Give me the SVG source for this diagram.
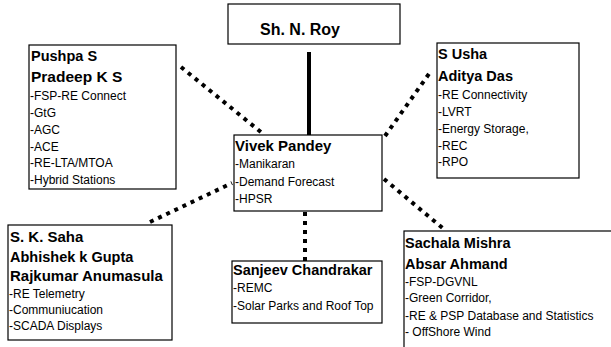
<svg xmlns="http://www.w3.org/2000/svg" width="611" height="347" viewBox="0 0 611 347">
<style>
.box{fill:#fff;stroke:#000;stroke-width:1.2}
.h{font-family:"Liberation Sans",Arial,sans-serif;font-weight:bold;font-size:14.5px;fill:#000}
.t{font-family:"Liberation Sans",Arial,sans-serif;font-size:12px;fill:#000}
.dot{fill:none;stroke:#000;stroke-width:4;stroke-dasharray:4 5}
.solid{fill:none;stroke:#000;stroke-width:4}
</style>
<rect width="611" height="347" fill="#fff"/>
<g id="connectors">
<line class="solid" x1="309" y1="52" x2="309" y2="135"/>
<line class="dot" x1="181" y1="67" x2="262" y2="133"/>
<line class="dot" x1="385" y1="136" x2="431" y2="71"/>
<line class="dot" x1="150" y1="222" x2="232" y2="183"/>
<line class="dot" x1="384" y1="179" x2="445" y2="230"/>
<line class="dot" x1="305" y1="212" x2="305" y2="261"/>
</g>
<g id="roy">
<rect class="box" x="228" y="4" width="172" height="40"/>
<text class="h" x="260" y="35" style="font-size:16px">Sh. N. Roy</text>
</g>
<g id="pushpa">
<rect class="box" x="29" y="45" width="147" height="144"/>
<text class="h" x="31" y="61">Pushpa S</text>
<text class="h" x="31" y="82" style="font-size:15.5px">Pradeep K S</text>
<text class="t" x="30" y="100">-FSP-RE Connect</text>
<text class="t" x="30" y="117">-GtG</text>
<text class="t" x="30" y="134">-AGC</text>
<text class="t" x="30" y="151">-ACE</text>
<text class="t" x="30" y="167">-RE-LTA/MTOA</text>
<text class="t" x="30" y="184">-Hybrid Stations</text>
</g>
<g id="usha">
<rect class="box" x="437" y="43" width="142" height="135"/>
<text class="h" x="438" y="59">S Usha</text>
<text class="h" x="438" y="81">Aditya Das</text>
<text class="t" x="438" y="99">-RE Connectivity</text>
<text class="t" x="438" y="116">-LVRT</text>
<text class="t" x="438" y="133">-Energy Storage,</text>
<text class="t" x="438" y="150">-REC</text>
<text class="t" x="438" y="166">-RPO</text>
</g>
<g id="vivek">
<rect class="box" x="234" y="135" width="148" height="76"/>
<text class="h" x="235" y="151" style="font-size:15px">Vivek Pandey</text>
<text class="t" x="235" y="168">-Manikaran</text>
<text class="t" x="235" y="186">-Demand Forecast</text>
<text class="t" x="235" y="203">-HPSR</text>
</g>
<g id="saha">
<rect class="box" x="8" y="225" width="164" height="115"/>
<text class="h" x="10" y="242" style="font-size:15px">S. K. Saha</text>
<text class="h" x="10" y="262">Abhishek k Gupta</text>
<text class="h" x="10" y="281" style="font-size:15px">Rajkumar Anumasula</text>
<text class="t" x="9" y="298">-RE Telemetry</text>
<text class="t" x="9" y="314">-Communiucation</text>
<text class="t" x="9" y="330">-SCADA Displays</text>
</g>
<g id="sanjeev">
<rect class="box" x="232" y="261" width="150" height="62"/>
<text class="h" x="233" y="275">Sanjeev Chandrakar</text>
<text class="t" x="233" y="292">-REMC</text>
<text class="t" x="233" y="310">-Solar Parks and Roof Top</text>
</g>
<g id="sachala">
<rect class="box" x="404" y="231" width="230" height="140"/>
<text class="h" x="405" y="248">Sachala Mishra</text>
<text class="h" x="405" y="269">Absar Ahmand</text>
<text class="t" x="405" y="286">-FSP-DGVNL</text>
<text class="t" x="405" y="302">-Green Corridor,</text>
<text class="t" x="405" y="320">-RE &amp; PSP Database and Statistics</text>
<text class="t" x="405" y="336">- OffShore Wind</text>
</g>
</svg>
